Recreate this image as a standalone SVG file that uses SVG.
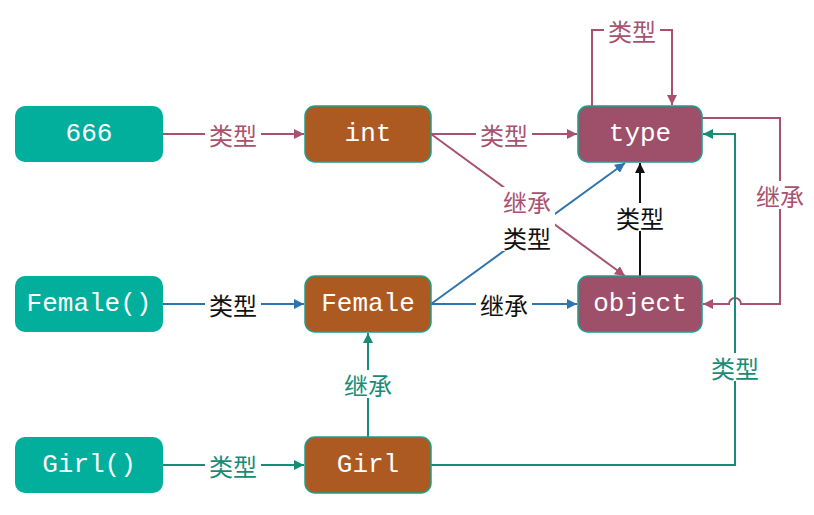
<svg xmlns="http://www.w3.org/2000/svg" width="814" height="515" viewBox="0 0 814 515">
<style>
.n text{font-family:"Liberation Mono","DejaVu Sans Mono",monospace;font-size:26px;fill:#fff;text-anchor:middle;dominant-baseline:central}
.inst{fill:#02AE9C}
.cls{fill:#AD5A22;stroke:#1E9E8C;stroke-width:1.5}
.meta{fill:#9E4F69;stroke:#1E9E8C;stroke-width:1.5}
.c path{fill:none;stroke-width:2}
.pk{stroke:#A8526F}
.bl{stroke:#2E75B0}
.gr{stroke:#178C77}
.bk{stroke:#111}
.lb rect{fill:#fff}
.lb text{font-family:"Noto Sans CJK SC",sans-serif;font-size:24px;text-anchor:middle;dominant-baseline:central}
.tpk{fill:#A8526F}.tbk{fill:#111}.tgr{fill:#178C77}
</style>
<defs>
<marker id="apk" viewBox="0 0 10 10" refX="10" refY="5" markerWidth="10" markerHeight="10" markerUnits="userSpaceOnUse" orient="auto"><path d="M0,0 L10,5 L0,10 z" fill="#A8526F"/></marker>
<marker id="abl" viewBox="0 0 10 10" refX="10" refY="5" markerWidth="10" markerHeight="10" markerUnits="userSpaceOnUse" orient="auto"><path d="M0,0 L10,5 L0,10 z" fill="#2E75B0"/></marker>
<marker id="agr" viewBox="0 0 10 10" refX="10" refY="5" markerWidth="10" markerHeight="10" markerUnits="userSpaceOnUse" orient="auto"><path d="M0,0 L10,5 L0,10 z" fill="#178C77"/></marker>
<marker id="abk" viewBox="0 0 10 10" refX="10" refY="5" markerWidth="10" markerHeight="10" markerUnits="userSpaceOnUse" orient="auto"><path d="M0,0 L10,5 L0,10 z" fill="#111"/></marker>
</defs>
<g id="connectors" class="c">
<path class="pk" d="M163,134 H304" marker-end="url(#apk)"/>
<path class="bl" d="M163,304 H304" marker-end="url(#abl)"/>
<path class="gr" d="M163,465 H304" marker-end="url(#agr)"/>
<path class="pk" d="M431,134 H577" marker-end="url(#apk)"/>
<path class="pk" d="M431,134 L625,276" marker-end="url(#apk)"/>
<path class="bl" d="M431,304 L625,163" marker-end="url(#abl)"/>
<path class="bl" d="M431,304 H577" marker-end="url(#abl)"/>
<path class="bk" d="M640,276 V163" marker-end="url(#abk)"/>
<path class="pk" d="M592,106 V30 H672 V105" marker-end="url(#apk)"/>
<path class="pk" d="M702,118 H780 V304 H741 A6,6 0 0 0 729,304 H703" marker-end="url(#apk)"/>
<path class="gr" d="M431,465 H735 V134 H703" marker-end="url(#agr)"/>
<path class="gr" d="M368,437 V333" marker-end="url(#agr)"/>
</g>
<g id="labels" class="lb">
<rect x="205" y="120" width="56" height="28"/><text class="tpk" x="233" y="134">类型</text>
<rect x="205" y="290" width="56" height="28"/><text class="tbk" x="233" y="304">类型</text>
<rect x="205" y="451" width="56" height="28"/><text class="tgr" x="233" y="465">类型</text>
<rect x="476" y="120" width="56" height="28"/><text class="tpk" x="504" y="134">类型</text>
<rect x="476" y="290" width="56" height="28"/><text class="tbk" x="504" y="304">继承</text>
<rect x="499" y="187" width="56" height="64"/><text class="tpk" x="527" y="201">继承</text><text class="tbk" x="527" y="237">类型</text>
<rect x="612" y="203" width="56" height="28"/><text class="tbk" x="640" y="217">类型</text>
<rect x="604" y="16" width="56" height="28"/><text class="tpk" x="632" y="30">类型</text>
<rect x="752" y="181" width="56" height="28"/><text class="tpk" x="780" y="195">继承</text>
<rect x="707" y="353" width="56" height="28"/><text class="tgr" x="735" y="367">类型</text>
<rect x="340" y="370" width="56" height="28"/><text class="tgr" x="368" y="384">继承</text>
</g>
<g id="n666" class="n"><rect class="inst" x="15" y="106" width="148" height="56" rx="10"/><text x="89" y="134">666</text></g>
<g id="nint" class="n"><rect class="cls" x="305" y="106" width="126" height="56" rx="10"/><text x="368" y="134">int</text></g>
<g id="ntype" class="n"><rect class="meta" x="578" y="106" width="124" height="56" rx="10"/><text x="640" y="134">type</text></g>
<g id="nFemaleCall" class="n"><rect class="inst" x="15" y="276" width="148" height="56" rx="10"/><text x="89" y="304">Female()</text></g>
<g id="nFemale" class="n"><rect class="cls" x="305" y="276" width="126" height="56" rx="10"/><text x="368" y="304">Female</text></g>
<g id="nobject" class="n"><rect class="meta" x="578" y="276" width="124" height="56" rx="10"/><text x="640" y="304">object</text></g>
<g id="nGirlCall" class="n"><rect class="inst" x="15" y="437" width="148" height="56" rx="10"/><text x="89" y="465">Girl()</text></g>
<g id="nGirl" class="n"><rect class="cls" x="305" y="437" width="126" height="56" rx="10"/><text x="368" y="465">Girl</text></g>
</svg>
